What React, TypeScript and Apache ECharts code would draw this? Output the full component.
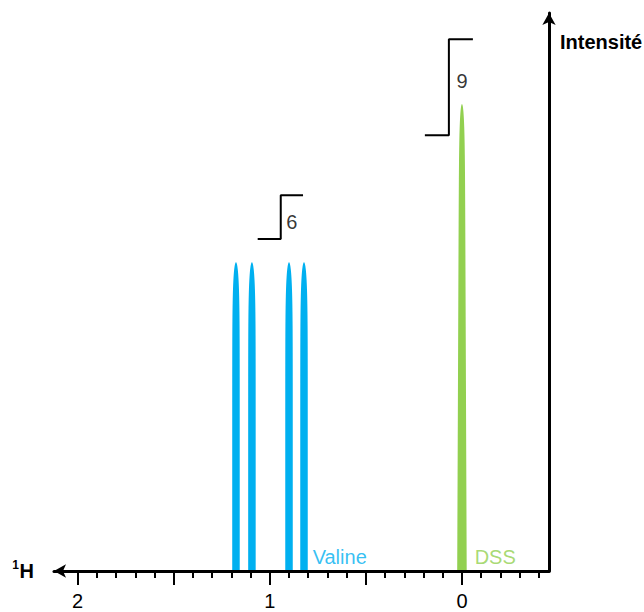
import React, { useEffect, useRef } from 'react';
import * as echarts from 'echarts';

// ---- data ----
const peakPpm = [1.176, 1.093, 0.9, 0.822, 0.0];
const peakHeight = [5.95, 5.95, 5.95, 5.95, 9.0];
const peakCompound = ['Valine', 'Valine', 'Valine', 'Valine', 'DSS'];

const compoundNames = ['Valine', 'DSS'];
const compoundLabelPpm = [0.777, -0.066];
const compoundLabelLevel = [0.27, 0.27];

const integralNames = ['6', '9'];
const integralPpm = [
  [1.063, 0.943, 0.827],
  [0.193, 0.068, -0.057],
];
const integralLevels = [
  [6.4, 7.24],
  [8.4, 10.25],
];
const integralLabelPpm = [0.885, 0.0];
const integralLabelLevel = [6.72, 9.44];

const ppmLabelValues = [0, 1, 2];
const ppmMajorTicks = [0, 0.5, 1, 1.5, 2];
const ppmMinorTicks = [
  -0.4, -0.3, -0.2, -0.1, 0.1, 0.2, 0.3, 0.4, 0.6, 0.7, 0.8, 0.9, 1.1, 1.2, 1.3, 1.4, 1.6, 1.7,
  1.8, 1.9,
];
const ppmMin = -0.453;
const ppmMax = 2.123;
const intensityMax = 10.754;

// ---- styles ----
const FONT = '"Liberation Sans", Arial, sans-serif';
const compoundColors: Record<string, string> = { Valine: '#00B0F0', DSS: '#92D050' };

export default function App() {
  const ref = useRef<HTMLDivElement>(null);
  useEffect(() => {
    if (!ref.current) return;
    const chart = echarts.init(ref.current, null, { renderer: 'svg' });

    const integralSeries = integralNames.map((name, i) => ({
      type: 'line',
      name: 'integral ' + name,
      xAxisIndex: 0,
      yAxisIndex: 0,
      showSymbol: false,
      silent: true,
      z: 3,
      lineStyle: { color: '#000', width: 2 },
      data: [
        [integralPpm[i][0], integralLevels[i][0]],
        [integralPpm[i][1], integralLevels[i][0]],
        [integralPpm[i][1], integralLevels[i][1]],
        [integralPpm[i][2], integralLevels[i][1]],
      ],
    }));

    const option: any = {
      animation: false,
      grid: { left: 54, right: 95, top: 13, bottom: 41, containLabel: false, outerBoundsMode: 'none' },
      xAxis: [
        {
          type: 'value',
          inverse: true,
          min: ppmMin,
          max: ppmMax,
          position: 'bottom',
          z: 10,
          splitLine: { show: false },
          axisLine: {
            show: true,
            onZero: false,
            symbol: ['arrow', 'none'],
            symbolSize: [10, 12],
            lineStyle: { color: '#000', width: 3 },
          },
          axisTick: {
            show: true,
            customValues: ppmMajorTicks,
            length: 14,
            lineStyle: { color: '#000', width: 2 },
          },
          axisLabel: {
            show: true,
            customValues: ppmLabelValues,
            margin: 20,
            fontSize: 20,
            fontFamily: FONT,
            color: '#000',
          },
        },
        {
          type: 'value',
          inverse: true,
          min: ppmMin,
          max: ppmMax,
          position: 'bottom',
          z: 10,
          splitLine: { show: false },
          axisLine: { show: false, onZero: false },
          axisTick: {
            show: true,
            customValues: ppmMinorTicks,
            length: 7,
            lineStyle: { color: '#000', width: 2 },
          },
          axisLabel: { show: false },
        },
      ],
      yAxis: {
        type: 'value',
        min: 0,
        max: intensityMax,
        position: 'right',
        z: 10,
        splitLine: { show: false },
        axisTick: { show: false },
        axisLabel: { show: false },
        axisLine: {
          show: true,
          onZero: false,
          symbol: ['none', 'arrow'],
          symbolSize: [10, 12],
          lineStyle: { color: '#000', width: 3 },
        },
      },
      graphic: [
        {
          type: 'text',
          x: 560,
          y: 42,
          style: {
            text: 'Intensité',
            font: 'bold 20px ' + FONT,
            fill: '#000',
            verticalAlign: 'middle',
            align: 'left',
          },
        },
        {
          type: 'text',
          x: 34,
          y: 571,
          style: {
            text: 'H',
            font: 'bold 20px ' + FONT,
            fill: '#000',
            verticalAlign: 'middle',
            align: 'right',
          },
        },
        {
          type: 'text',
          x: 19,
          y: 565,
          style: {
            text: '1',
            font: 'bold 12px ' + FONT,
            fill: '#000',
            verticalAlign: 'middle',
            align: 'right',
          },
        },
      ],
      series: [
        {
          type: 'custom',
          name: 'peaks',
          xAxisIndex: 0,
          yAxisIndex: 0,
          silent: true,
          z: 2,
          data: peakPpm.map((p, i) => [p, peakHeight[i]]),
          renderItem: (params: any, api: any) => {
            const i = params.dataIndex;
            const comp = peakCompound[i];
            const base = api.coord([api.value(0), 0]);
            const top = api.coord([api.value(0), api.value(1)]);
            const isRef = comp === 'DSS';
            const wb = isRef ? 9.5 : 7.5;
            const a = isRef ? 0.4 : 0;
            const p = isRef ? 18 : 11;
            const n = 60;
            const right: number[][] = [];
            const left: number[][] = [];
            for (let k = 0; k <= n; k++) {
              const t = Math.sin(((k / n) * Math.PI) / 2);
              const y = base[1] + (top[1] - base[1]) * t;
              const hw = (wb / 2) * (1 - a * t) * Math.sqrt(Math.max(0, 1 - Math.pow(t, p)));
              right.push([base[0] + hw, y]);
              left.unshift([base[0] - hw, y]);
            }
            return {
              type: 'polygon',
              shape: { points: right.concat(left) },
              style: { fill: compoundColors[comp] },
            };
          },
        },
        ...integralSeries,
        {
          type: 'scatter',
          name: 'integral labels',
          symbolSize: 0,
          silent: true,
          data: integralNames.map((n, i) => ({
            name: n,
            value: [integralLabelPpm[i], integralLabelLevel[i]],
          })),
          label: {
            show: true,
            position: [0, 0],
            align: 'center',
            verticalAlign: 'middle',
            formatter: '{b}',
            fontSize: 20,
            fontFamily: FONT,
            color: '#000',
          },
        },
        {
          type: 'scatter',
          name: 'compound labels',
          symbolSize: 0,
          silent: true,
          data: compoundNames.map((n, i) => ({
            name: n,
            value: [compoundLabelPpm[i], compoundLabelLevel[i]],
            label: { color: compoundColors[n] },
          })),
          label: {
            show: true,
            position: [0, 0],
            align: 'left',
            verticalAlign: 'middle',
            formatter: '{b}',
            fontSize: 20,
            fontFamily: FONT,
          },
        },
      ],
    };
    chart.setOption(option);
    return () => chart.dispose();
  }, []);
  return (
    <div
      ref={ref}
      style={{ position: 'fixed', left: 0, top: 0, width: 644, height: 612, background: '#fff' }}
    />
  );
}
